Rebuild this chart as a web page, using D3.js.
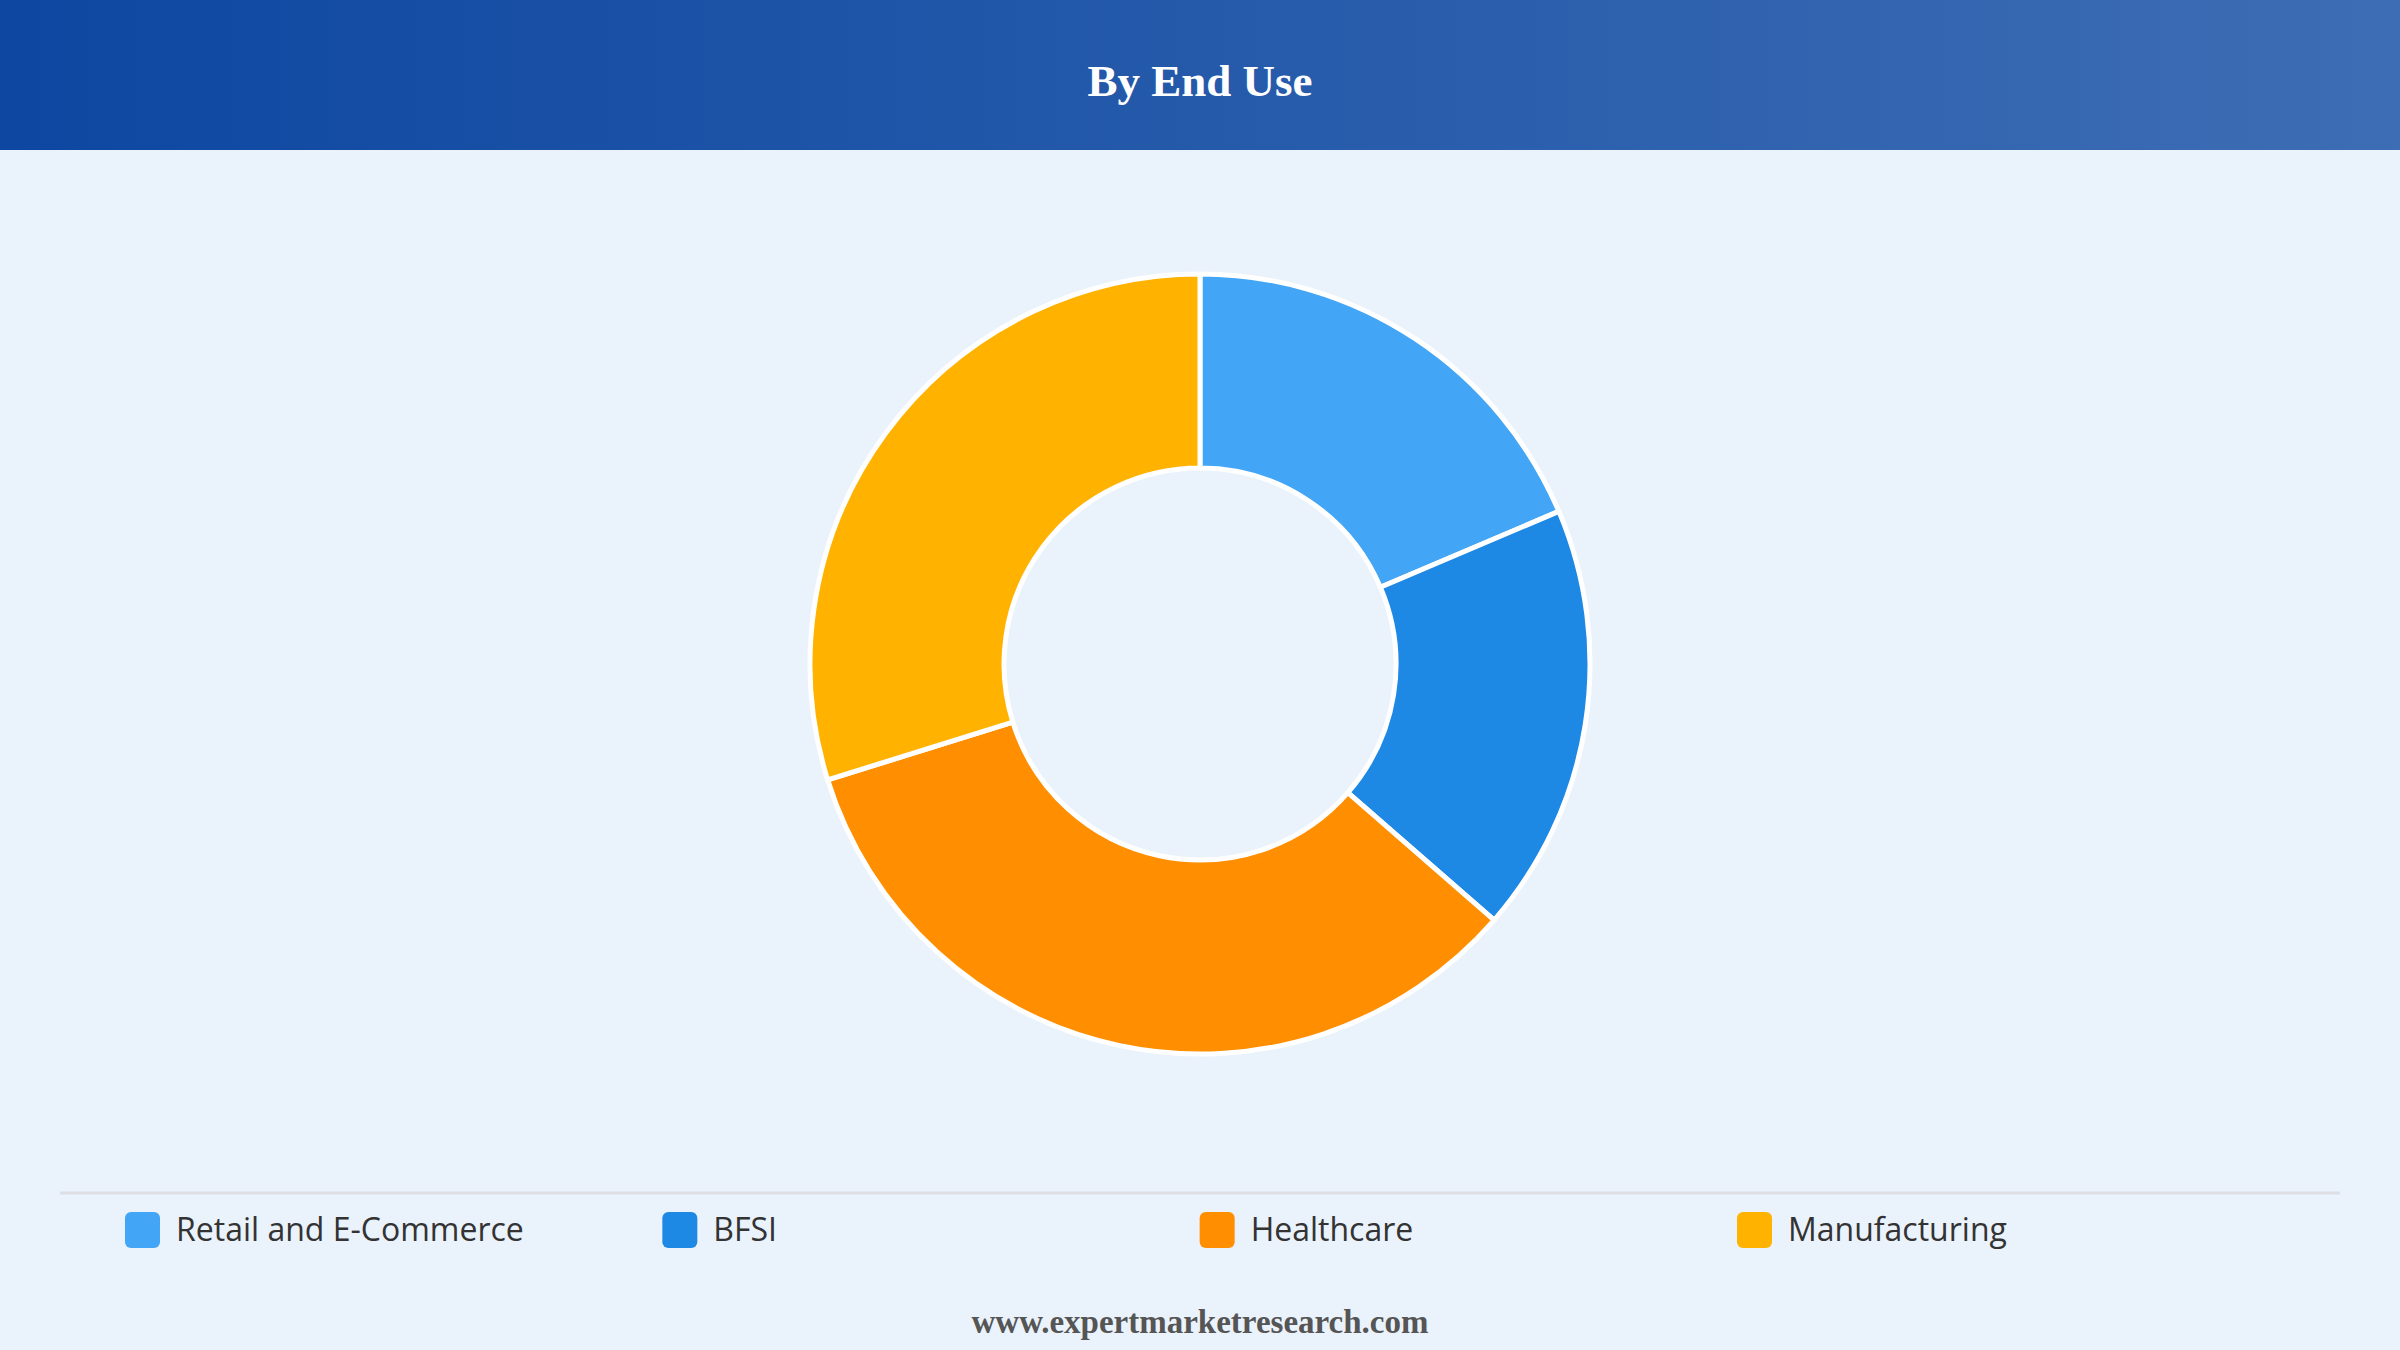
<!DOCTYPE html>
<html>
<head>
<meta charset="utf-8">
<script src="https://cdn.jsdelivr.net/npm/d3@7"></script>
<style>
  html, body { margin: 0; padding: 0; background: #eaf2fb; }
  svg { display: block; }
  .title { font-family: "Liberation Serif", "Times New Roman", serif; font-weight: bold; fill: #fff; }
  .legend text { font-family: "Open Sans", "Noto Sans", sans-serif; fill: #333; }
  .footer { font-family: "Liberation Serif", "Times New Roman", serif; font-weight: bold; fill: #555; }
</style>
</head>
<body>
<svg width="2400" height="1350"></svg>
<script>
// data (share of total, %)
var categories = ["Retail and E-Commerce", "BFSI", "Healthcare", "Manufacturing"];
var shares = [18.6, 17.8, 33.8, 29.8];
var colors = ["#42a5f5", "#1e88e5", "#ff8f00", "#ffb300"];

var svg = d3.select("svg"),
    width = +svg.attr("width"),
    height = +svg.attr("height");

// header band with gradient
var defs = svg.append("defs");
var grad = defs.append("linearGradient")
    .attr("id", "hdr")
    .attr("x1", "0%").attr("x2", "100%")
    .attr("y1", "0%").attr("y2", "0%");
grad.append("stop").attr("offset", "0%").attr("stop-color", "#0d47a1");
grad.append("stop").attr("offset", "100%").attr("stop-color", "#3d6db4");

svg.append("rect")
    .attr("width", width)
    .attr("height", 150)
    .attr("fill", "url(#hdr)");

svg.append("text")
    .attr("class", "title")
    .attr("x", width / 2)
    .attr("y", 96)
    .attr("text-anchor", "middle")
    .style("font-size", "45px")
    .text("By End Use");

// donut
var cx = 1200, cy = 664,
    outerR = 390, innerR = 196;

var pie = d3.pie().sort(null).value(function(d) { return d; });
var arc = d3.arc().innerRadius(innerR).outerRadius(outerR);
var color = d3.scaleOrdinal().domain(categories).range(colors);

var chart = svg.append("g")
    .attr("transform", "translate(" + cx + "," + cy + ")");

chart.selectAll("path")
    .data(pie(shares))
  .enter().append("path")
    .attr("d", arc)
    .attr("fill", function(d, i) { return color(categories[i]); })
    .attr("stroke", "#fff")
    .attr("stroke-width", 5)
    .attr("stroke-linejoin", "round");

// separator above legend
svg.append("line")
    .attr("x1", 60).attr("x2", 2340)
    .attr("y1", 1193).attr("y2", 1193)
    .attr("stroke", "#dcdfe3")
    .attr("stroke-width", 3);

// legend
var lx = d3.scalePoint().domain(categories).range([125, 1737]);

var legend = svg.append("g")
    .attr("class", "legend")
  .selectAll("g")
    .data(categories)
  .enter().append("g")
    .attr("transform", function(d) { return "translate(" + lx(d) + ",1212)"; });

legend.append("rect")
    .attr("width", 35)
    .attr("height", 36)
    .attr("rx", 6)
    .attr("fill", function(d) { return color(d); });

legend.append("text")
    .attr("x", 51)
    .attr("y", 18)
    .attr("dy", ".35em")
    .style("font-size", "32px")
    .style("font-weight", 500)
    .text(function(d) { return d; });

// footer
svg.append("text")
    .attr("class", "footer")
    .attr("x", width / 2)
    .attr("y", 1333)
    .attr("text-anchor", "middle")
    .style("font-size", "33px")
    .text("www.expertmarketresearch.com");
</script>
</body>
</html>
